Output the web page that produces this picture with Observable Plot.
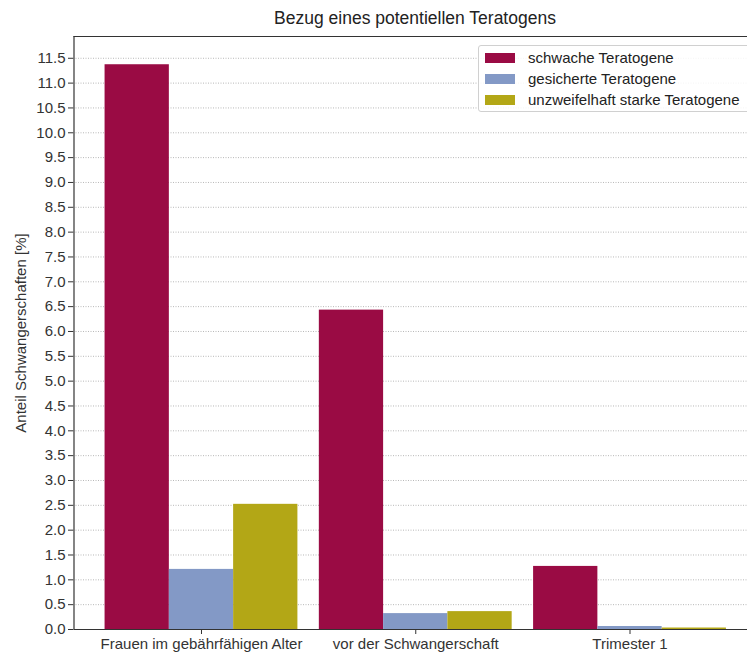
<!DOCTYPE html>
<html><head><meta charset="utf-8">
<script src="https://cdn.jsdelivr.net/npm/d3@7"></script>
<script src="https://cdn.jsdelivr.net/npm/@observablehq/plot@0.6"></script>
<style>
body{margin:0;background:#fff;font-family:"Liberation Sans",Arial,sans-serif;}
#wrap{position:relative;width:747px;height:652px;overflow:hidden;background:#fff;}
#title{position:absolute;left:73px;width:684px;top:8px;line-height:20px;text-align:center;font-size:17.5px;color:#222;}
#chart{position:absolute;left:0;top:30px;}
#ylabel{position:absolute;left:20px;top:333px;transform:translate(-50%,-50%) rotate(-90deg);font-size:15px;color:#333;white-space:nowrap;}
#legend{position:absolute;left:478px;top:45px;width:280px;height:67px;border:1px solid #d0d0d0;border-radius:3px;background:rgba(255,255,255,0.85);box-sizing:border-box;}
.row{position:absolute;left:6px;height:21px;display:flex;align-items:center;font-size:15px;color:#222;white-space:nowrap;}
.sw{width:30px;height:10px;margin-right:13px;}
</style></head><body>
<div id="wrap">
<div id="title">Bezug eines potentiellen Teratogens</div>
<div id="chart"></div>
<div id="ylabel">Anteil Schwangerschaften [%]</div>
<div id="legend"></div>
</div>
<script>
const categories = ["Frauen im gebährfähigen Alter", "vor der Schwangerschaft", "Trimester 1"];
const series = ["schwache Teratogene", "gesicherte Teratogene", "unzweifelhaft starke Teratogene"];
const colors = ["#9a0b44", "#8399c6", "#b3a716"];
const schwach = [11.37, 6.43, 1.27];
const gesichert = [1.21, 0.32, 0.06];
const stark = [2.52, 0.36, 0.03];
const yTicks = [0, 0.5, 1, 1.5, 2, 2.5, 3, 3.5, 4, 4.5, 5, 5.5, 6, 6.5, 7, 7.5, 8, 8.5, 9, 9.5, 10, 10.5, 11, 11.5];

const values = [schwach, gesichert, stark];
const barW = 0.3;
const data = [];
categories.forEach((c, gi) => {
  series.forEach((s, si) => {
    const center = gi + (si - 1) * barW;
    data.push({category: c, series: s, x1: center - barW / 2, x2: center + barW / 2, value: values[si][gi]});
  });
});
const xMin = -1.5 * barW - 0.145, xMax = 2 + 1.5 * barW + 0.145;
const yMax = d3.max(schwach) * 1.05;

const plot = Plot.plot({
  width: 747, height: 622,
  marginLeft: 73, marginRight: -10, marginTop: 6, marginBottom: 23,
  style: {fontFamily: "'Liberation Sans', Arial, sans-serif", fontSize: "15px", color: "#333", background: "white", overflow: "visible"},
  x: {type: "linear", domain: [xMin, xMax], range: [73.5, 757], ticks: [0, 1, 2], tickFormat: i => categories[i], tickSize: 5, tickPadding: 4, label: null},
  y: {domain: [0, yMax], ticks: yTicks, tickFormat: d => d.toFixed(1), tickSize: 5, tickPadding: 3, label: null},
  color: {domain: series, range: colors},
  marks: [
    Plot.ruleY(yTicks, {stroke: "#b8b8b8", strokeDasharray: "1,1.5", strokeWidth: 1}),
    Plot.rectY(data, {x1: "x1", x2: "x2", y1: 0, y2: "value", fill: "series"}),
    Plot.ruleY([0], {x1: xMin, x2: xMax, stroke: "#333", strokeWidth: 1.2}),
    Plot.ruleY([yMax], {x1: xMin, x2: xMax, stroke: "#333", strokeWidth: 1.2}),
    Plot.ruleX([xMin], {y1: 0, y2: yMax, stroke: "#333", strokeWidth: 1.2})
  ]
});
document.getElementById("chart").appendChild(plot);

const legend = document.getElementById("legend");
series.forEach((s, i) => {
  const row = document.createElement("div");
  row.className = "row";
  row.style.top = (1 + i * 21) + "px";
  const sw = document.createElement("div");
  sw.className = "sw";
  sw.style.background = colors[i];
  row.appendChild(sw);
  const t = document.createElement("span");
  t.textContent = s;
  row.appendChild(t);
  legend.appendChild(row);
});
</script>
</body></html>
